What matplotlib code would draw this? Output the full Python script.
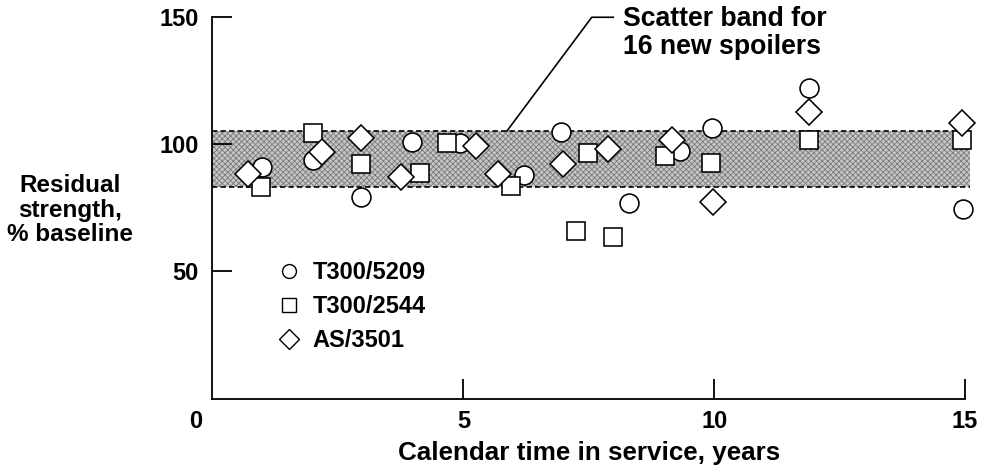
import matplotlib
matplotlib.use("Agg")
import matplotlib.pyplot as plt
from matplotlib.lines import Line2D
from matplotlib.transforms import ScaledTranslation

plt.rcParams['font.family'] = ['Liberation Sans', 'DejaVu Sans']
plt.rcParams['font.weight'] = 'bold'
plt.rcParams['hatch.linewidth'] = 0.6

# Años en servicio y resistencia residual (% del valor base) por material
t_5209 = [0.98, 2.0, 2.96, 3.97, 4.94, 6.2, 6.94, 8.3, 9.31, 9.95, 11.9, 14.95]
r_5209 = [91.2, 93.8, 79.1, 101.0, 100.4, 87.9, 104.7, 76.8, 97.3, 106.3, 122.0, 74.5]

t_2544 = [0.97, 2.0, 2.96, 4.14, 4.67, 5.95, 7.25, 7.48, 7.99, 9.01, 9.94, 11.9, 14.94]
r_2544 = [83.2, 104.5, 92.2, 88.8, 100.4, 83.6, 66.0, 96.4, 63.6, 95.4, 92.5, 101.7, 101.8]

t_3501 = [0.70, 2.18, 2.97, 3.76, 5.25, 5.70, 6.98, 7.88, 9.16, 9.97, 11.9, 14.94]
r_3501 = [88.3, 97.1, 102.3, 87.2, 99.3, 88.3, 92.1, 98.1, 101.7, 77.4, 112.8, 108.2]

# Banda de dispersión de los 16 spoilers nuevos
banda_min = 83.2
banda_max = 105.2
banda_fin = 15.1

materiales = ["T300/5209", "T300/2544", "AS/3501"]
marcadores = ["o", "s", "D"]

fig = plt.figure(figsize=(9.92, 4.75), dpi=100)
ax = fig.add_axes([0.2142, 0.161, 0.9728 - 0.2142, 0.9642 - 0.161])

ax.fill_between([0, banda_fin], banda_min, banda_max, facecolor='#c6c6c6',
                edgecolor='#7a7a7a', hatch='xxxxxx', linewidth=0, zorder=1,
                clip_on=False)
for yb in (banda_min, banda_max):
    ax.plot([0, banda_fin], [yb, yb], color='black', lw=1.2,
            linestyle=(0, (3.2, 1.9)), zorder=2, clip_on=False)

series = [(t_5209, r_5209), (t_2544, r_2544), (t_3501, r_3501)]
for (t, r), m in zip(series, marcadores):
    ax.plot(t, r, linestyle='none', marker=m, ms=13.6,
            mfc='white', mec='black', mew=1.15, zorder=3, clip_on=False)

# Línea indicadora hacia el texto de la banda
ax.plot([5.87, 7.56, 7.99], [banda_max, 149.9, 149.9], color='black', lw=1.2,
        clip_on=False, zorder=4)
ax.text(8.19, 150, "Scatter band for\n16 new spoilers", fontsize=19.2,
        fontweight='bold', ha='left', va='top', linespacing=1.08,
        transform=ax.transData + ScaledTranslation(0, 11 / 100, fig.dpi_scale_trans))

ax.set_xlim(0, 15)
ax.set_ylim(0, 150)
ax.spines['top'].set_visible(False)
ax.spines['right'].set_visible(False)
for s in ('left', 'bottom'):
    ax.spines[s].set_linewidth(1.3)

ax.set_xticks([0, 5, 10, 15])
ax.set_xticklabels(['0', '5', '10', '15'])
ax.set_yticks([50, 100, 150])
ax.set_yticklabels(['50', '100', '150'])
ax.tick_params(direction='in', length=14.5, width=1.3, labelsize=17)
ax.tick_params(axis='x', pad=8)
ax.tick_params(axis='y', pad=10)
ax.get_xticklines()[0].set_visible(False)
lab0 = ax.get_xticklabels()[0]
lab0.set_transform(lab0.get_transform() + ScaledTranslation(-17 / 100, 0, fig.dpi_scale_trans))

ax.set_xlabel("Calendar time in service, years", fontsize=18.7, fontweight='bold', labelpad=6)
fig.text(70 / 992, 1 - 210 / 475, "Residual\nstrength,\n% baseline", fontsize=17.5,
         fontweight='bold', ha='center', va='center', multialignment='center',
         linespacing=1.1)

handles = [Line2D([], [], linestyle='none', marker=m, ms=10, mfc='white',
                  mec='black', mew=1.0) for m in marcadores]
leg = ax.legend(handles, materiales, loc='upper left', frameon=False,
                bbox_to_anchor=(277 / 992, 1 - 261 / 475),
                bbox_transform=fig.transFigure, fontsize=17, borderpad=0,
                borderaxespad=0, handlelength=1.0, handletextpad=0.5,
                labelspacing=0.47)

fig.savefig("out.png", dpi=100)
